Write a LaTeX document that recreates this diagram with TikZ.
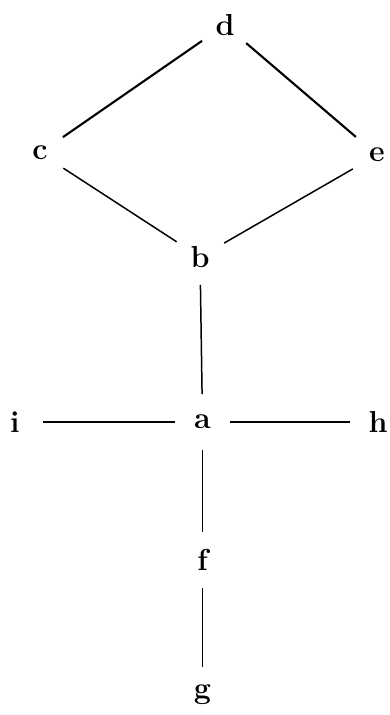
\documentclass[tikz,border=0pt]{standalone}
\usepackage{tikz}
\usetikzlibrary{positioning, calc}

\begin{document}
\begin{tikzpicture}[
    vtx/.style={circle, minimum size=1.1cm, inner sep=0pt, font=\LARGE\bfseries},
    edge/.style={line width=0.85pt},
    thickedge/.style={line width=1.2pt}
  ]
    \useasboundingbox (0,0) rectangle (7.78,-14.3);
    % vertices
    \node[vtx] (d) at (4.50,-0.50) {d};
    \node[vtx] (c) at (0.80,-3.06) {c};
    \node[vtx] (e) at (7.54,-3.10) {e};
    \node[vtx] (b) at (4.00,-5.14) {b};
    \node[vtx] (a) at (4.05,-8.44) {a};
    \node[vtx] (i) at (0.30,-8.44) {i};
    \node[vtx] (h) at (7.56,-8.44) {h};
    \node[vtx] (f) at (4.05,-11.20) {f};
    \node[vtx] (g) at (4.05,-13.90) {g};
    % edges
    \draw[thickedge] (d) -- (c);
    \draw[thickedge] (d) -- (e);
    \draw[edge] (c) -- (b);
    \draw[edge] (e) -- (b);
    \draw[edge] (b) -- (a);
    \draw[edge] (i) -- (a);
    \draw[edge] (a) -- (h);
    \draw[edge] (a) -- (f);
    \draw[edge] (f) -- (g);
\end{tikzpicture}
\end{document}
